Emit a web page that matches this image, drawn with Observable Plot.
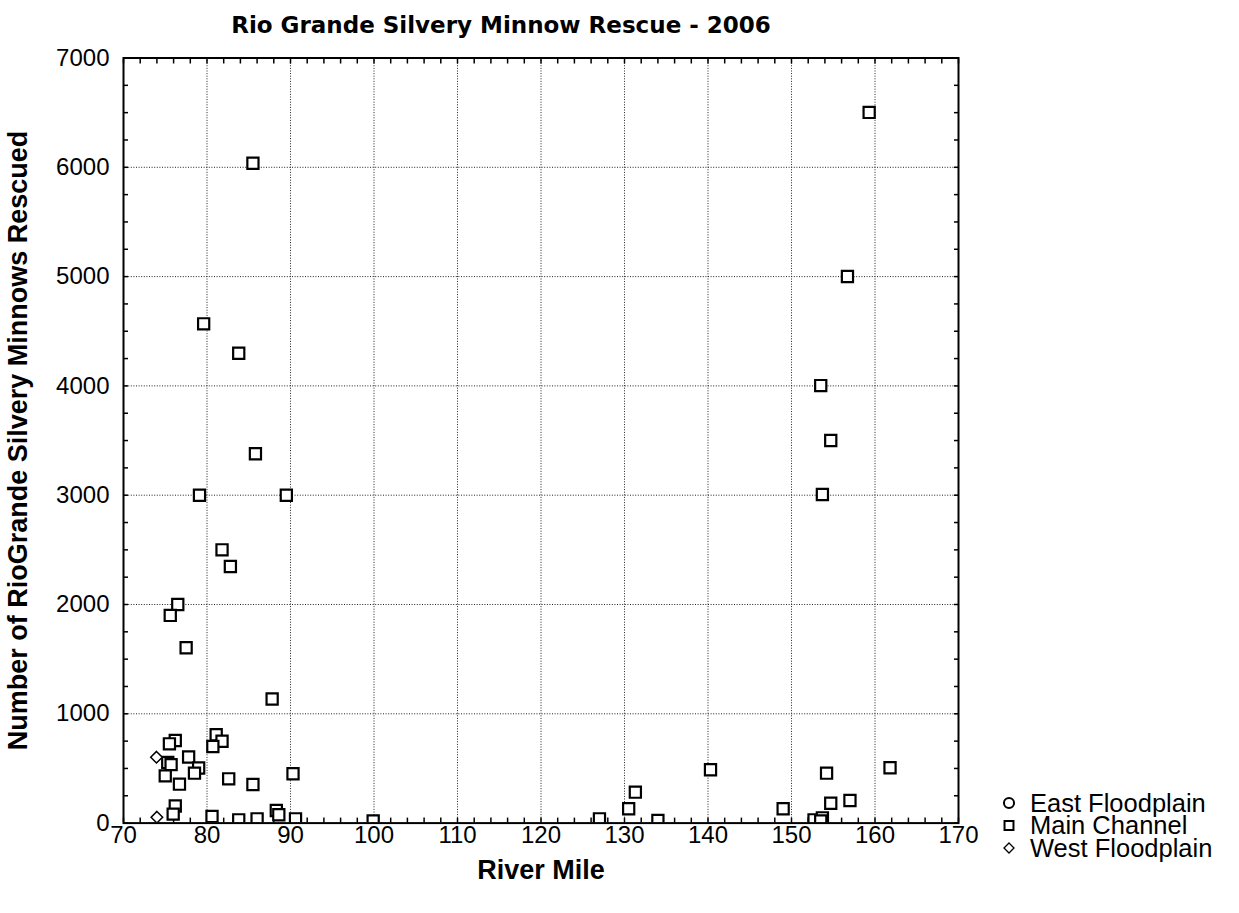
<!DOCTYPE html>
<html>
<head>
<meta charset="utf-8">
<script src="https://cdn.jsdelivr.net/npm/d3@7"></script>
<script src="https://cdn.jsdelivr.net/npm/@observablehq/plot@0.6"></script>
<style>
  html, body { margin: 0; padding: 0; background: #fff; }
  #chart { position: relative; width: 1239px; height: 913px; }
</style>
</head>
<body>
<div id="chart"></div>
<script>
const titleText = "Rio Grande Silvery Minnow Rescue - 2006";
const xLabel = "River Mile";
const yLabel = "Number of RioGrande Silvery Minnows Rescued";
const seriesNames = ["East Floodplain", "Main Channel", "West Floodplain"];
const xTicks = [70, 80, 90, 100, 110, 120, 130, 140, 150, 160, 170];
const yTicks = [0, 1000, 2000, 3000, 4000, 5000, 6000, 7000];

// East Floodplain: no observations plotted
const eastMile = [];
const eastCount = [];

// Main Channel
const mainMile = [
  76.2, 75.5, 75.3, 75.7, 75.0, 77.8, 79.0, 78.5, 76.7, 76.2, 75.95, 80.6,
  87.8, 81.1, 81.8, 80.7, 82.6, 85.5, 90.3, 83.8, 86.0, 88.3, 88.6, 90.6,
  85.8, 79.1, 89.5, 81.8, 82.8, 76.5, 75.6, 77.5, 85.5, 79.6, 83.8,
  127.0, 130.5, 131.3, 134.0, 140.3, 149.0, 154.2, 154.7, 157.0, 161.8,
  152.7, 153.7, 153.5, 99.9, 159.3, 156.7, 153.5, 154.7, 153.7
];
const mainCount = [
  756, 725, 555, 535, 432, 605, 504, 457, 356, 156, 82, 60,
  1135, 808, 749, 701, 405, 353, 451, 30, 39, 115, 76, 39,
  3379, 3000, 3000, 2500, 2348, 2000, 1900, 1604, 6037, 4568, 4299,
  39, 131, 283, 24, 488, 131, 457, 182, 207, 506,
  30, 48, 20, 20, 6502, 5001, 4003, 3500, 3006
];

// West Floodplain
const westMile = [73.95, 74.0];
const westCount = [603, 54];

const toRows = (xs, ys) => xs.map((x, i) => ({mile: x, count: ys[i]}));
const east = toRows(eastMile, eastCount);
const main = toRows(mainMile, mainCount);
const west = toRows(westMile, westCount);

const xMinor = d3.range(70, 170.01, 2);
const yMinor = d3.range(0, 7000.01, 250);

const plot = Plot.plot({
  width: 1239,
  height: 913,
  marginLeft: 123,
  marginRight: 281,
  marginTop: 57.5,
  marginBottom: 90.4,
  style: {fontFamily: "Liberation Sans, Arial, sans-serif", background: "#fff"},
  x: {domain: [70, 170]},
  y: {domain: [0, 7000]},
  marks: [
    Plot.ruleX(xTicks.slice(1, -1), {stroke: "#222", strokeDasharray: "1,1.6", strokeWidth: 1}),
    Plot.ruleY(yTicks.slice(1, -1), {stroke: "#222", strokeDasharray: "1,1.6", strokeWidth: 1}),
    Plot.axisX(xMinor, {anchor: "bottom", tickSize: -5, text: null, strokeWidth: 1.5, label: null}),
    Plot.axisX(xMinor, {anchor: "top", tickSize: -5, text: null, strokeWidth: 1.5, label: null}),
    Plot.axisY(yMinor, {anchor: "left", tickSize: -5, text: null, strokeWidth: 1.5, label: null}),
    Plot.axisY(yMinor, {anchor: "right", tickSize: -5, text: null, strokeWidth: 1.5, label: null}),
    Plot.axisX(xTicks, {anchor: "bottom", tickSize: 0, tickPadding: 3, fontSize: 24, fill: "#000", label: null, tickFormat: d => String(d)}),
    Plot.axisY(yTicks, {anchor: "left", tickSize: 0, tickPadding: 14, fontSize: 24, fill: "#000", label: null, tickFormat: d => String(d)}),
    Plot.dot(east, {x: "mile", y: "count", symbol: "circle", r: 6, stroke: "#000", fill: "#fff", strokeWidth: 2, clip: true}),
    Plot.dot(main, {x: "mile", y: "count", symbol: "square", r: 6.3, stroke: "#000", fill: "#fff", strokeWidth: 2.2, clip: true}),
    Plot.dot(west, {x: "mile", y: "count", symbol: "diamond2", r: 5.2, stroke: "#000", fill: "#fff", strokeWidth: 1.5, clip: true}),
    Plot.frame({stroke: "#000", strokeWidth: 2}),
    Plot.text([xLabel], {frameAnchor: "bottom", textAnchor: "middle", dy: 56, fontSize: 27, fontWeight: "bold", fill: "#000"}),
    Plot.text([yLabel], {frameAnchor: "left", textAnchor: "middle", lineAnchor: "middle", dx: -105, rotate: -90, fontSize: 27, fontWeight: "bold", fill: "#000"})
  ]
});

document.getElementById("chart").appendChild(plot);

const svg = d3.select(plot);
svg.append("text")
  .attr("x", 501).attr("y", 33)
  .attr("text-anchor", "middle")
  .attr("font-family", "DejaVu Sans, Verdana, sans-serif")
  .attr("font-weight", "bold")
  .attr("font-size", 23)
  .attr("fill", "#000")
  .text(titleText);

const legendSymbols = [d3.symbolCircle, d3.symbolSquare, d3.symbolDiamond2];
const lg = svg.append("g").attr("transform", "translate(1009,803)");
seriesNames.forEach((name, i) => {
  const g = lg.append("g").attr("transform", `translate(0,${i * 22.5})`);
  g.append("path")
    .attr("d", d3.symbol(legendSymbols[i], i === 2 ? 64 : 80)())
    .attr("fill", "#fff").attr("stroke", "#000").attr("stroke-width", i === 2 ? 1.3 : 2);
  g.append("text")
    .attr("x", 21).attr("dy", "0.35em")
    .attr("text-anchor", "start")
    .attr("font-family", "Liberation Sans, Arial, sans-serif")
    .attr("font-size", 25.5)
    .attr("fill", "#000")
    .text(name);
});
</script>
</body>
</html>
